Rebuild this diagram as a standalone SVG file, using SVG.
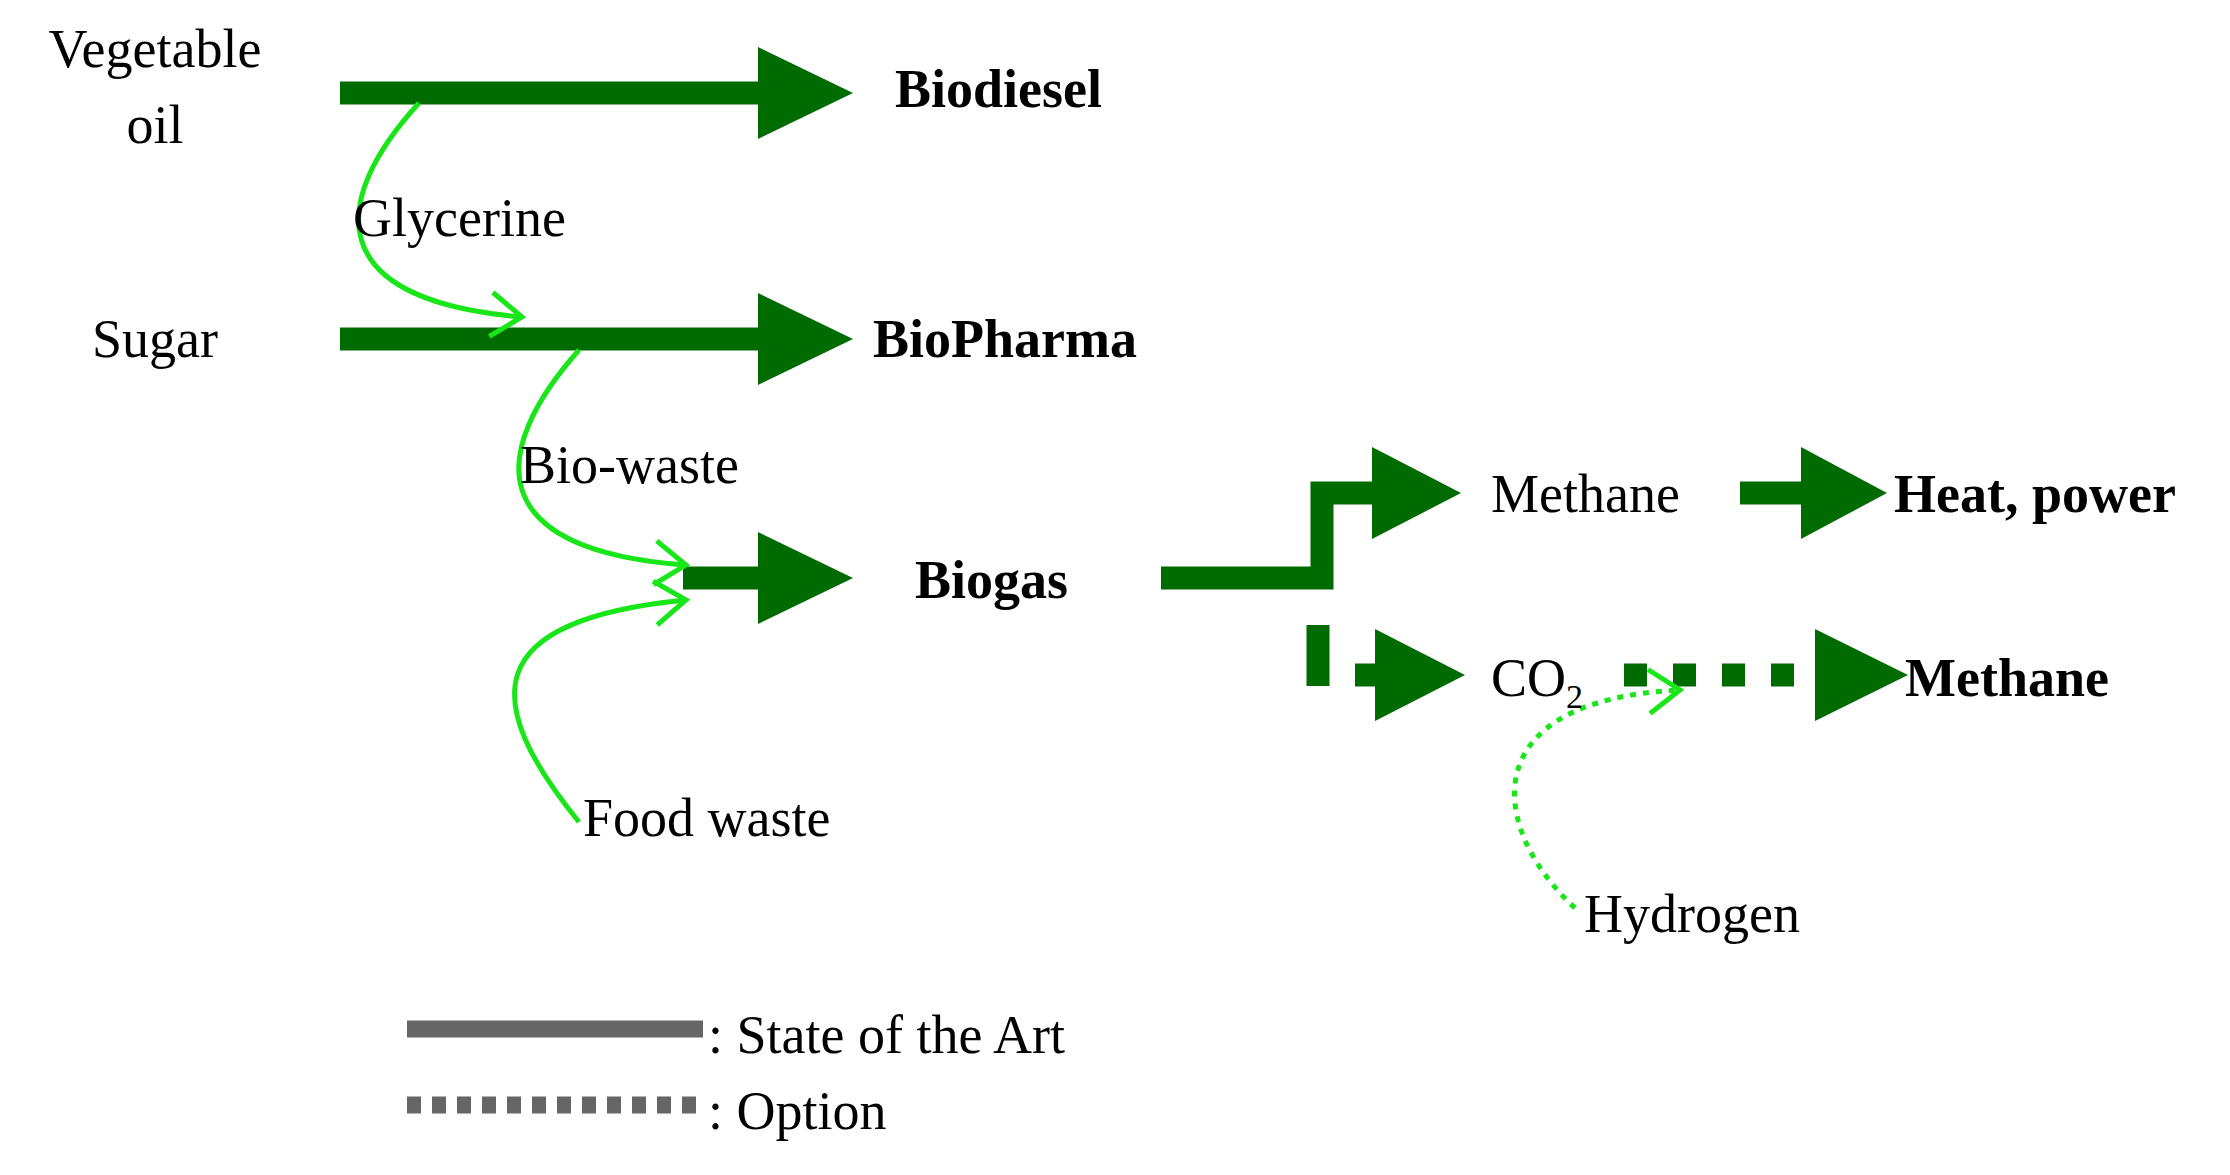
<svg xmlns="http://www.w3.org/2000/svg" width="2230" height="1175" viewBox="0 0 2230 1175">
<defs>
<marker id="chev" markerWidth="12" markerHeight="12" refX="9" refY="6" orient="auto" markerUnits="userSpaceOnUse" viewBox="0 0 12 12" style="overflow:visible">
<path d="M-22,-16 L9,6 L-22,28" fill="none" stroke="#19e619" stroke-width="5"/>
</marker>
</defs>
<style>
.t{font-family:"Liberation Serif",serif;font-size:54px;fill:#000}
.b{font-weight:bold}
.shaft{stroke:#006b00;stroke-width:23;fill:none}
.dot{stroke:#006b00;stroke-width:23;fill:none;stroke-dasharray:23 26}
.head{fill:#006b00}
.cv{stroke:#19e619;stroke-width:5;fill:none}
</style>
<rect width="2230" height="1175" fill="#fff"/>
<g id="connectors">
<path class="shaft" d="M340,93 H765"/><polygon class="head" points="758,47 853,93 758,139"/>
<path class="shaft" d="M340,339 H765"/><polygon class="head" points="758,293 853,339 758,385"/>
<path class="shaft" d="M683,578 H765"/><polygon class="head" points="758,532 853,578 758,624"/>
<path class="shaft" d="M1161,578 H1322 V493 H1380"/><polygon class="head" points="1372,447 1461,493 1372,539"/>
<path class="shaft" d="M1740,493 H1810"/><polygon class="head" points="1801,447 1887,493 1801,539"/>
<path class="shaft" d="M1318,625 V686"/>
<path class="shaft" d="M1355,675 H1380"/><polygon class="head" points="1375,629 1465,675 1375,721"/>
<path class="dot" d="M1624,675 H1800"/><polygon class="head" points="1815,629 1908,675 1815,721"/>
<path class="cv" d="M419,103 C330,200 320,300 522,317" marker-end="url(#chev)"/>
<path class="cv" d="M579,350 C490,450 480,550 686,565" marker-end="url(#chev)"/>
<path class="cv" d="M579,822 C480,700 480,620 686,600" marker-end="url(#chev)"/>
<path class="cv" d="M1575,908 C1490,830 1470,700 1680,690" stroke-dasharray="6 7" marker-end="url(#chev)"/>
<path d="M407,1029 H703" stroke="#666" stroke-width="17"/>
<path d="M407,1105 H703" stroke="#666" stroke-width="17" stroke-dasharray="14 11"/>
</g>
<g id="veg"><text class="t" x="155" y="67" text-anchor="middle">Vegetable</text><text class="t" x="155" y="143" text-anchor="middle">oil</text></g>
<g id="sugar"><text class="t" x="155" y="357" text-anchor="middle">Sugar</text></g>
<g id="biodiesel"><text class="t b" x="895" y="107">Biodiesel</text></g>
<g id="biopharma"><text class="t b" x="873" y="357">BioPharma</text></g>
<g id="glycerine"><text class="t" x="353" y="236">Glycerine</text></g>
<g id="biowaste"><text class="t" x="520" y="483">Bio-waste</text></g>
<g id="foodwaste"><text class="t" x="583" y="836">Food waste</text></g>
<g id="biogas"><text class="t b" x="915" y="598">Biogas</text></g>
<g id="methane1"><text class="t" x="1491" y="512">Methane</text></g>
<g id="heat"><text class="t b" x="1894" y="512">Heat, power</text></g>
<g id="co2"><text class="t" x="1491" y="696">CO<tspan font-size="34" dy="12">2</tspan></text></g>
<g id="methane2"><text class="t b" x="1905" y="696">Methane</text></g>
<g id="hydrogen"><text class="t" x="1584" y="932">Hydrogen</text></g>
<g id="legend"><text class="t" x="708" y="1053">: State of the Art</text><text class="t" x="708" y="1129">: Option</text></g>
</svg>
